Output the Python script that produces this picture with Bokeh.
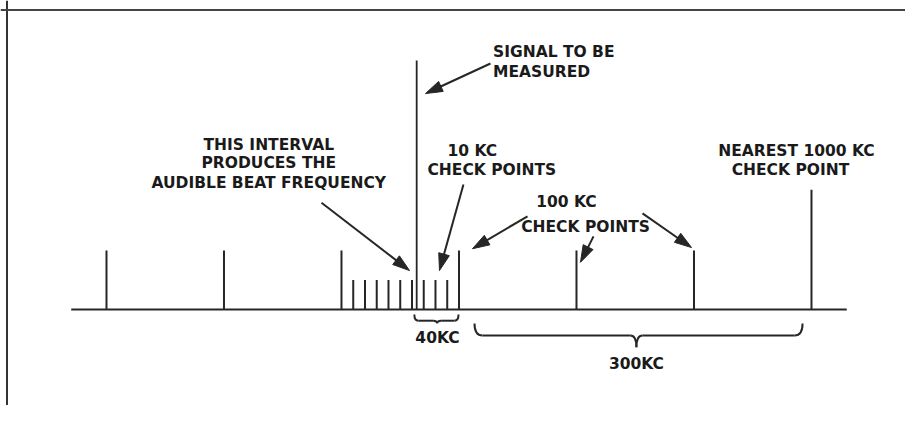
import numpy as np
from bokeh.plotting import figure
from bokeh.models import Label, Span, Range1d
from bokeh.embed import file_html
from bokeh.resources import INLINE

# ---------------- data (frequency in KC, relative amplitude) ----------------
check_100kc = [400, 500, 600, 700, 800, 900]
check_100kc_amp = [1.0, 1.0, 1.0, 1.0, 1.0, 1.0]
check_10kc = [610, 620, 630, 640, 650, 660, 670, 680, 690]
check_10kc_amp = [0.5, 0.5, 0.5, 0.5, 0.5, 0.5, 0.5, 0.5, 0.5]
check_1000kc = [1000]
check_1000kc_amp = [2.03]
signal_kc = [664]
signal_amp = [4.22]
baseline_kc = [370, 1030]

# ---------------- layout ----------------
W, H = 905, 405
PX_PER_KC = 1.175
PX_PER_AMP = 59.0
X0 = 309.8
X1 = X0 + W / PX_PER_KC
Y1 = 309 / PX_PER_AMP
Y0 = -(H - 309) / PX_PER_AMP

INK = "#262626"
TXT = "#1a1a1a"
FONT = "DejaVu Sans"

p = figure(width=W, height=H, output_backend="svg", toolbar_location=None,
           x_range=Range1d(X0, X1), y_range=Range1d(Y0, Y1),
           x_axis_location=None, y_axis_location=None,
           min_border=0, min_border_left=0, min_border_right=0,
           min_border_top=0, min_border_bottom=0)
p.grid.visible = False
p.outline_line_color = None
p.background_fill_color = "white"
p.border_fill_color = "white"

# frame lines (top and left)
p.add_layout(Span(location=X0 + 6.5 / PX_PER_KC, dimension="height",
                  line_color="#333333", line_width=2))
p.add_layout(Span(location=Y1 - 9.5 / PX_PER_AMP, dimension="width",
                  line_color="#444444", line_width=2))

# baseline
p.line(baseline_kc, [0, 0], line_color=INK, line_width=2)

# spectral lines
p.segment(x0=check_100kc, y0=[0] * len(check_100kc), x1=check_100kc, y1=check_100kc_amp,
          line_color=INK, line_width=2)
p.segment(x0=check_10kc, y0=[0] * len(check_10kc), x1=check_10kc, y1=check_10kc_amp,
          line_color=INK, line_width=2)
p.segment(x0=check_1000kc, y0=[0], x1=check_1000kc, y1=check_1000kc_amp,
          line_color=INK, line_width=2)
p.segment(x0=signal_kc, y0=[0], x1=signal_kc, y1=signal_amp,
          line_color=INK, line_width=1.8)


# ---------------- arrows ----------------
def arrow(xs, ys, xe, ye, head_len=17, half_w=5.5):
    dxp = (xe - xs) * PX_PER_KC
    dyp = (ye - ys) * PX_PER_AMP
    L = np.hypot(dxp, dyp)
    ux, uy = dxp / L, dyp / L
    bx, by = -ux * head_len, -uy * head_len
    nx, ny = -uy * half_w, ux * half_w
    base_x = xe + bx / PX_PER_KC
    base_y = ye + by / PX_PER_AMP
    p.segment(x0=[xs], y0=[ys], x1=[base_x + ux * 2 / PX_PER_KC],
              y1=[base_y + uy * 2 / PX_PER_AMP], line_color=INK, line_width=2)
    hx = [xe, base_x + nx / PX_PER_KC, base_x - nx / PX_PER_KC]
    hy = [ye, base_y + ny / PX_PER_AMP, base_y - ny / PX_PER_AMP]
    p.patch(hx, hy, fill_color=INK, line_color=INK, line_width=1)


arrow(726.8, 4.17, 671.5, 3.66)   # signal to be measured
arrow(583.0, 1.81, 657.9, 0.66)   # audible beat interval
arrow(703.8, 2.12, 683.4, 0.66)   # 10 kc check points
arrow(758.3, 1.58, 711.5, 1.03)   # 100 kc (700)
arrow(814.5, 1.24, 803.4, 0.80)   # 100 kc (800)
arrow(856.2, 1.63, 897.9, 1.05)   # 100 kc (900)


# ---------------- braces ----------------
def brace(xl, xr, xc, y_end, y_mid, y_tip, r_end_px, r_tip_px):
    re = r_end_px / PX_PER_KC
    rt = r_tip_px / PX_PER_KC
    kw = dict(line_color=INK, line_width=2)
    p.quadratic(x0=[xl], y0=[y_end], cx=[xl], cy=[y_mid], x1=[xl + re], y1=[y_mid], **kw)
    p.segment(x0=[xl + re], y0=[y_mid], x1=[xc - rt], y1=[y_mid], **kw)
    p.quadratic(x0=[xc - rt], y0=[y_mid], cx=[xc], cy=[y_mid], x1=[xc], y1=[y_tip], **kw)
    p.quadratic(x0=[xc], y0=[y_tip], cx=[xc], cy=[y_mid], x1=[xc + rt], y1=[y_mid], **kw)
    p.segment(x0=[xc + rt], y0=[y_mid], x1=[xr - re], y1=[y_mid], **kw)
    p.quadratic(x0=[xr - re], y0=[y_mid], cx=[xr], cy=[y_mid], x1=[xr], y1=[y_end], **kw)


brace(662.0, 699.6, 681.4, -0.085, -0.19, -0.235, 4, 4)
brace(713.2, 992.4, 851.0, -0.237, -0.44, -0.64, 8, 6)


# ---------------- labels ----------------
def label(x, y, text, align="center"):
    p.add_layout(Label(x=x, y=y, text=text, text_font=FONT, text_font_style="bold",
                       text_font_size="15.5px", text_color=TXT,
                       text_align=align, text_baseline="middle"))


label(729.0, 4.36, "SIGNAL  TO BE", "left")
label(729.0, 4.02, "MEASURED", "left")
label(540.4, 2.78, "THIS  INTERVAL")
label(540.4, 2.49, "PRODUCES  THE")
label(540.4, 2.15, "AUDIBLE  BEAT FREQUENCY")
label(690.2, 2.69, "10 KC", "left")
label(673.2, 2.37, "CHECK POINTS", "left")
label(791.5, 1.83, "100 KC")
label(807.7, 1.39, "CHECK POINTS")
label(987.2, 2.68, "NEAREST 1000 KC")
label(982.1, 2.36, "CHECK POINT")
label(681.7, -0.49, "40KC")
label(851.0, -0.93, "300KC")

open("out.html", "w").write(file_html(p, INLINE))
